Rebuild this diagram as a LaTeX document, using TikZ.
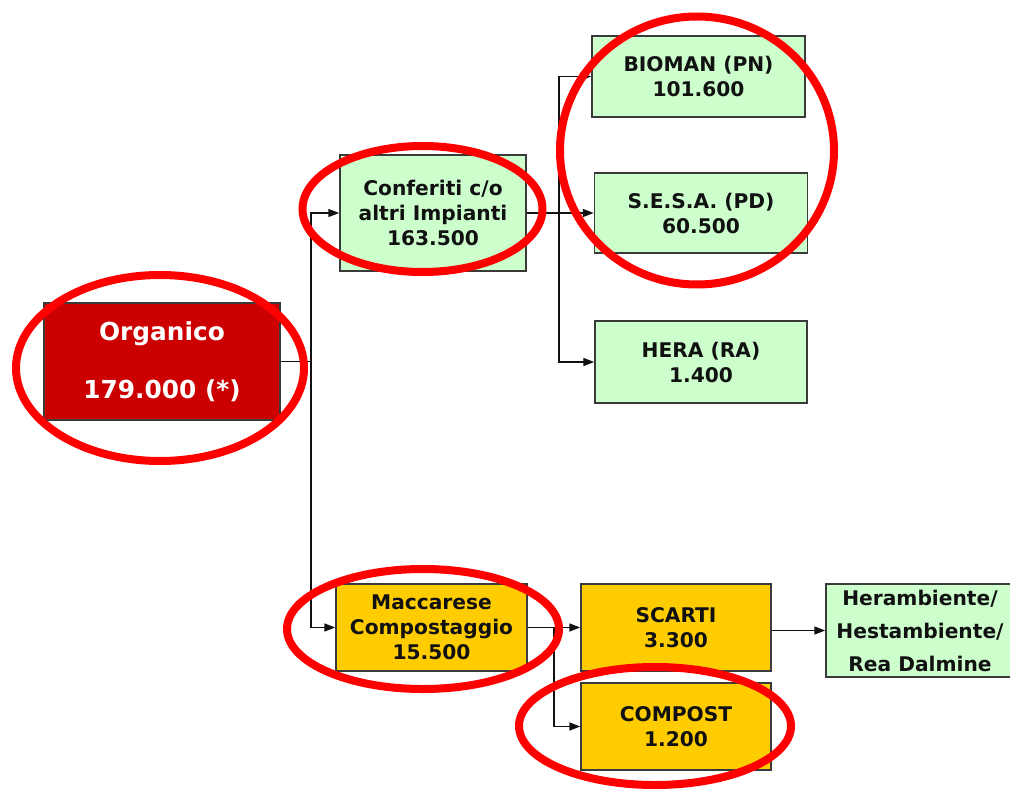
\documentclass[tikz,border=0pt]{standalone}
\usepackage{fontspec}
\setmainfont{DejaVu Sans}
\usetikzlibrary{arrows.meta}
\definecolor{orgred}{HTML}{CC0000}
\definecolor{lgreen}{HTML}{CCFFCC}
\definecolor{gold}{HTML}{FFCC00}
\definecolor{boxline}{HTML}{3A3A3A}
\definecolor{ring}{HTML}{FF0000}
\definecolor{ink}{HTML}{111111}
\begin{document}
\begin{tikzpicture}[x=1pt,y=-1pt,
  box/.style={draw=boxline, line width=1.5pt, inner sep=0pt, align=center, text=ink,
    font=\bfseries\fontsize{20.2}{25}\selectfont},
  greenbox/.style={box, fill=lgreen},
  goldbox/.style={box, fill=gold},
  redbox/.style={box, fill=orgred, text=white, font=\bfseries\fontsize{24.8}{58}\selectfont},
  conn/.style={draw=ink, line width=1.6pt},
  arr/.style={conn, -{Triangle[length=11pt,width=8pt]}},
  redring/.style={draw=ring, line width=8pt}]
\clip (0,0) rectangle (1010,789);
\fill[white] (0,0) rectangle (1010,789);

\node[redbox, minimum width=236pt, minimum height=117pt] (org) at (162,361.5) {Organico\\179.000 (*)};
\node[greenbox, minimum width=186pt, minimum height=116pt] (conf) at (433,213) {Conferiti c/o\\altri Impianti\\163.500};
\node[greenbox, minimum width=213pt, minimum height=81pt] (bio) at (698.5,76.5) {BIOMAN (PN)\\101.600};
\node[greenbox, minimum width=213pt, minimum height=80pt] (sesa) at (701,213) {S.E.S.A. (PD)\\60.500};
\node[greenbox, minimum width=212pt, minimum height=82pt] (hera) at (701,362) {HERA (RA)\\1.400};
\node[goldbox, minimum width=191pt, minimum height=87pt] (macc) at (431.5,627.5) {Maccarese\\Compostaggio\\15.500};
\node[goldbox, minimum width=190pt, minimum height=87pt] (scarti) at (676,627.5) {SCARTI\\3.300};
\node[goldbox, minimum width=190pt, minimum height=87pt] (compost) at (676,726.5) {COMPOST\\1.200};
\node[greenbox, minimum width=188pt, minimum height=93pt, font=\bfseries\fontsize{20.2}{33}\selectfont] (heram) at (920,630.5) {Herambiente/\\Hestambiente/\\Rea Dalmine};

\draw[arr] (org.east) -- ++(30,0) |- (conf.west);
\draw[arr] (org.east) -- ++(30,0) |- (macc.west);
\draw[arr] (conf.east) -- (sesa.west);
\draw[arr] (conf.east) -- ++(32,0) |- (bio.west);
\draw[arr] (conf.east) -- ++(32,0) |- (hera.west);
\draw[arr] (macc.east) -- (scarti.west);
\draw[arr] (macc.east) -- ++(26,0) |- (compost.west);
\draw[arr] (scarti.east |- heram.west) -- (heram.west);

\draw[redring] (160,368) ellipse [x radius=144pt, y radius=93pt];
\draw[redring] (422.5,209) ellipse [x radius=120pt, y radius=63pt];
\draw[redring] (697,150.5) ellipse [x radius=137pt, y radius=134pt];
\draw[redring] (423,629) ellipse [x radius=136pt, y radius=60pt];
\draw[redring] (655,726) ellipse [x radius=136pt, y radius=59pt];
\end{tikzpicture}
\end{document}
